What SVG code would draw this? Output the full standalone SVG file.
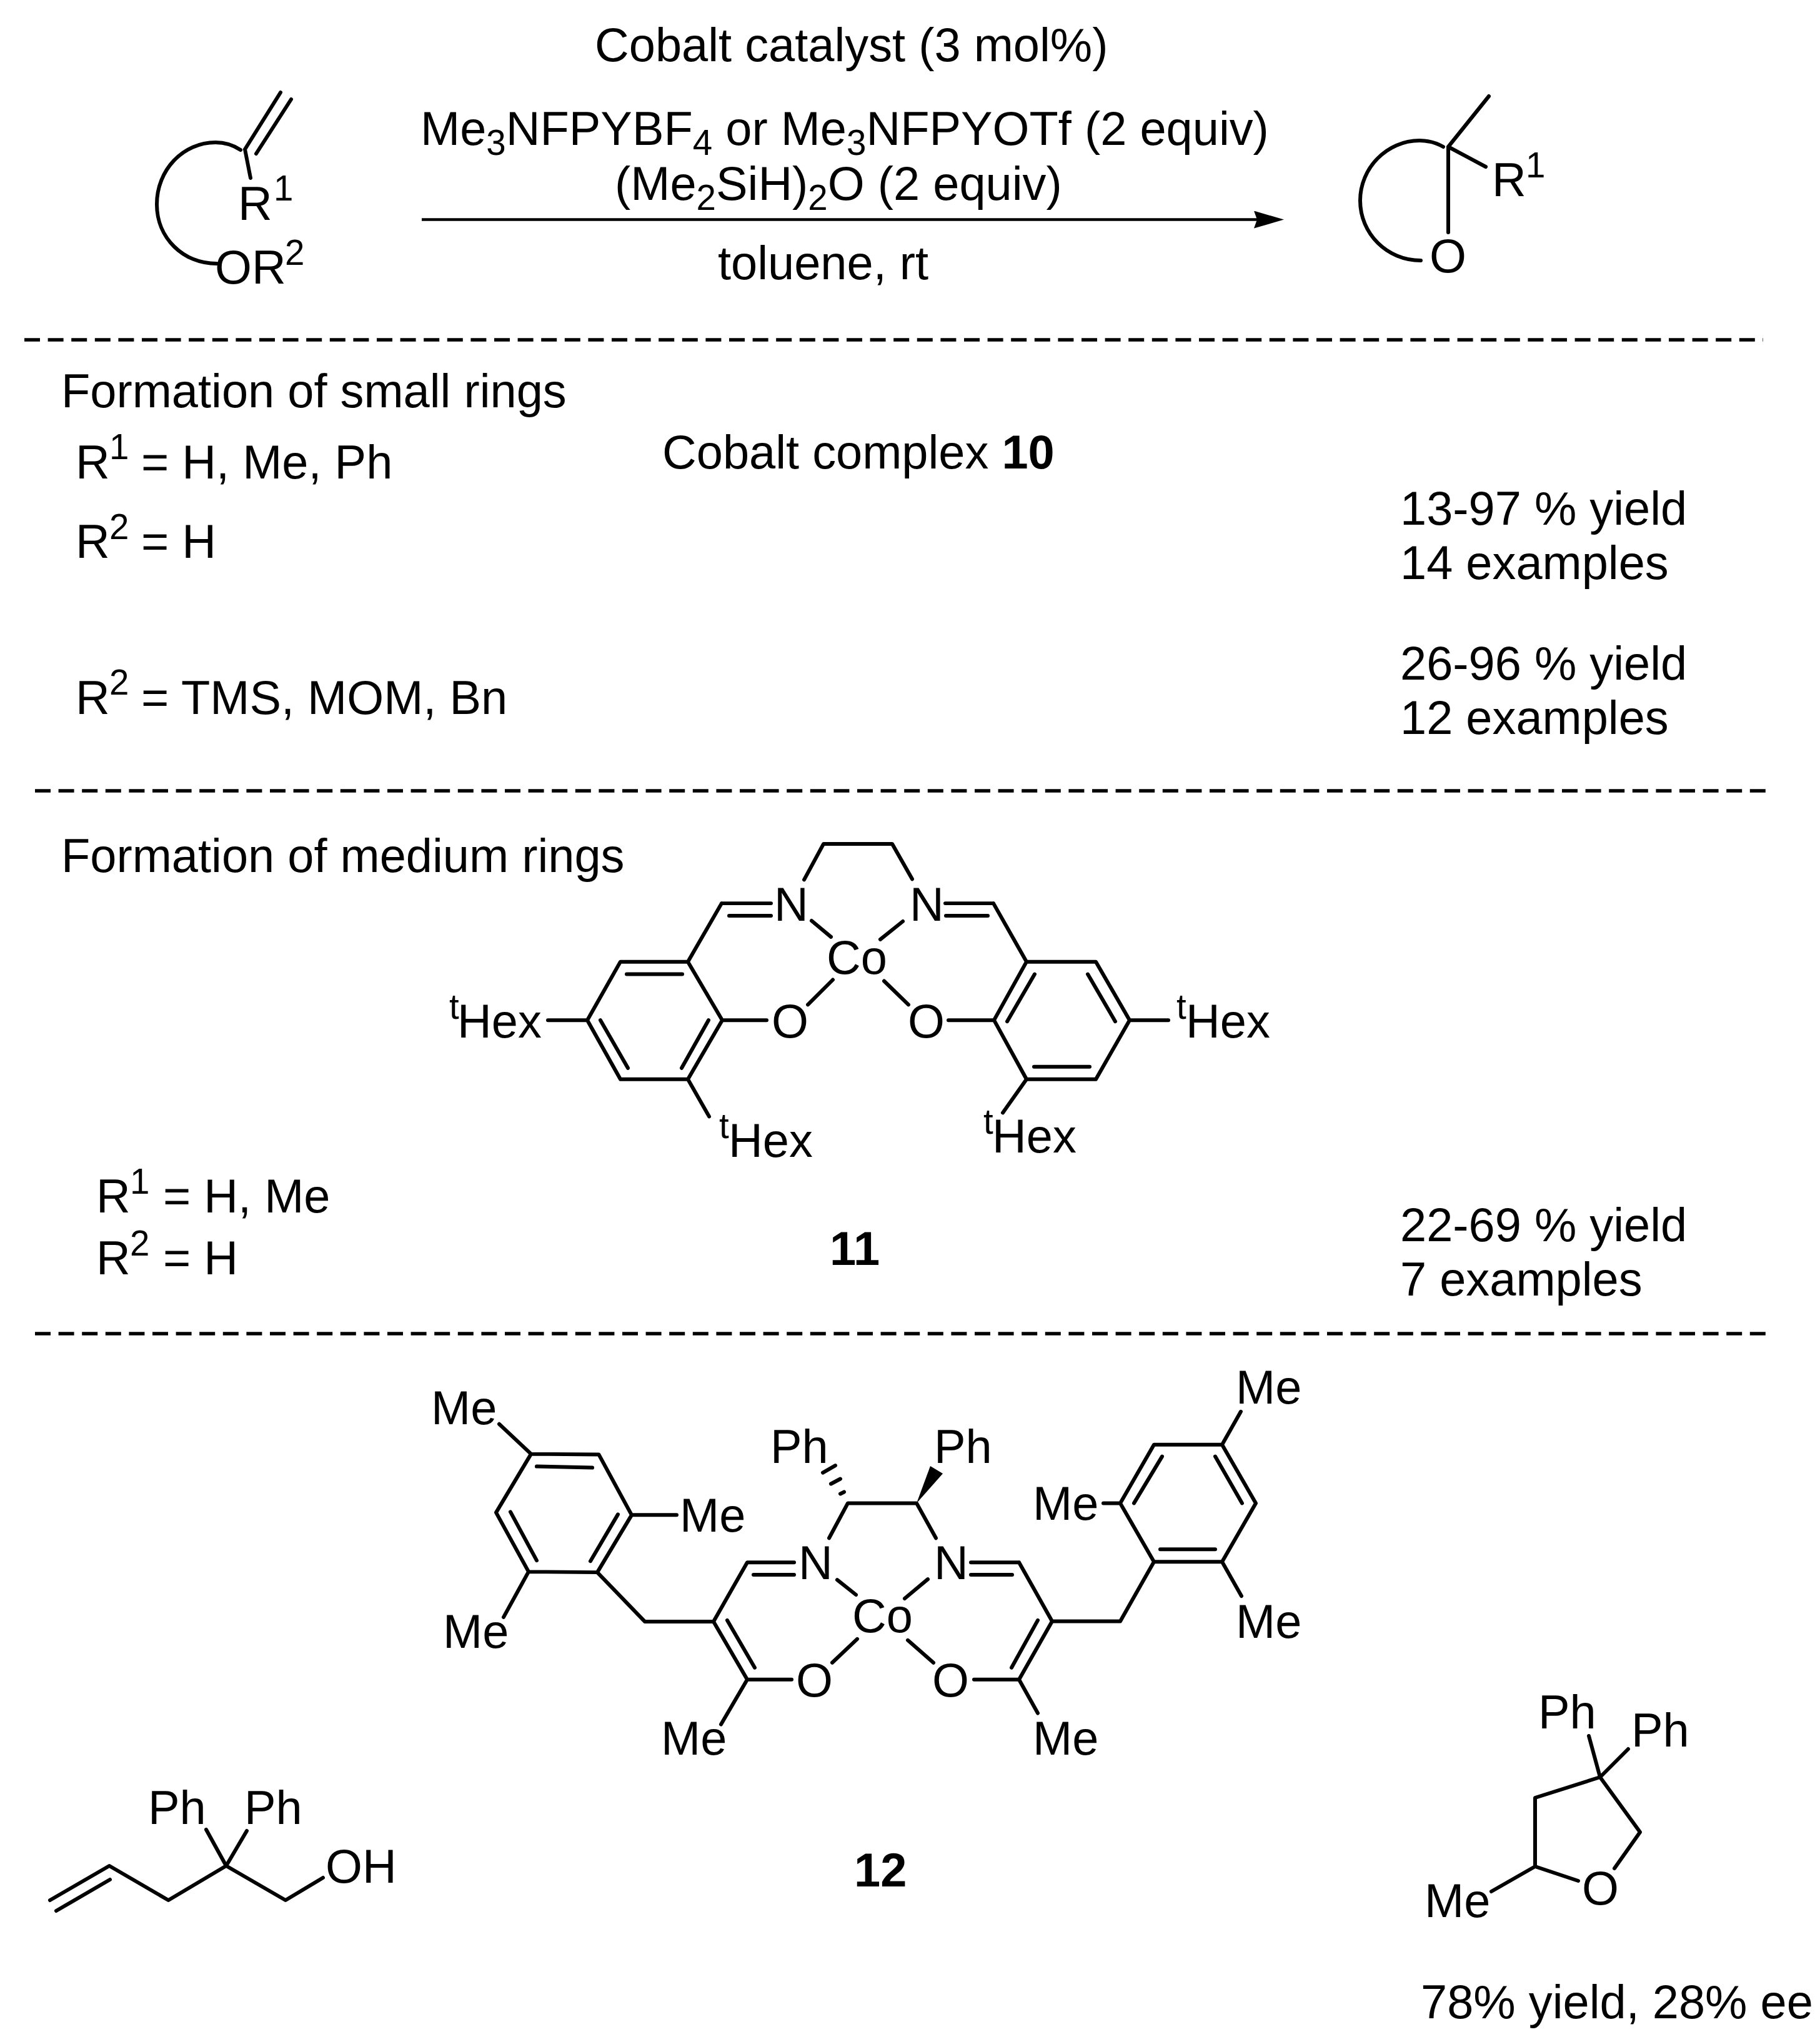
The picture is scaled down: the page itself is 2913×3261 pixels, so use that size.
<svg xmlns="http://www.w3.org/2000/svg" width="2913" height="3261" viewBox="0 0 2913 3261">
<defs>
<style>
text{font-family:"Liberation Sans",Arial,sans-serif;font-size:75.8px;fill:#000}
.s{font-size:56.5px}
.b{font-weight:bold}
.bond{fill:none;stroke:#000;stroke-width:6;stroke-linecap:round;stroke-linejoin:round}
.dash{fill:none;stroke:#000;stroke-width:5.5;stroke-dasharray:25 12.6;stroke-linecap:butt}
.arrow{fill:none;stroke:#000;stroke-width:4.5}
</style>
<marker id="head" markerUnits="userSpaceOnUse" viewBox="0 0 48 28" refX="5" refY="14" markerWidth="48" markerHeight="28" orient="auto"><path d="M0,0L48,14L0,28L5,14Z" fill="#000"/></marker>
</defs>
<rect width="2913" height="3261" fill="#fff"/>
<g id="connectors">
<line class="arrow" x1="675" y1="351.5" x2="2012" y2="351.5" marker-end="url(#head)"/>
<line class="dash" x1="39" y1="544" x2="2822" y2="544"/>
<line class="dash" x1="56" y1="1266" x2="2826" y2="1266"/>
<line class="dash" x1="56" y1="2135" x2="2831" y2="2135"/>
</g>
<g id="reagents">
<text x="952" y="98">Cobalt catalyst (3 mol%)</text>
<text x="673" y="232">Me<tspan class="s" dy="16">3</tspan><tspan dy="-16">NFPYBF</tspan><tspan class="s" dy="16">4</tspan><tspan dy="-16"> or Me</tspan><tspan class="s" dy="16">3</tspan><tspan dy="-16">NFPYOTf (2 equiv)</tspan></text>
<text x="984" y="320">(Me<tspan class="s" dy="16">2</tspan><tspan dy="-16">SiH)</tspan><tspan class="s" dy="16">2</tspan><tspan dy="-16">O (2 equiv)</tspan></text>
<text x="1149" y="446.5">toluene, rt</text>
</g>
<g id="substrate">
<path class="bond" d="M392,239L449,148M410,246L466,159M392,239L401,285"/>
<path class="bond" d="M385,240C373,232 358,228 345,228C293,228 251,272 251,327C251,381 293,422 347,422"/>
<text x="381" y="352">R</text><text class="s" x="438" y="321">1</text>
<text x="344" y="453.5">OR</text><text class="s" x="456" y="424">2</text>
</g>
<g id="product">
<path class="bond" d="M2318,235L2383,154M2318,235L2378,267M2318,235L2318,372"/>
<path class="bond" d="M2310,235C2298,228 2285,225 2272,225C2220,225 2177,269 2177,321C2177,374 2220,417 2274,417"/>
<text x="2388" y="313.5">R</text><text class="s" x="2442" y="284">1</text>
<text x="2288" y="435.5">O</text>
</g>
<g id="small-rings">
<text x="98" y="652">Formation of small rings</text>
<text x="121" y="765.5">R</text><text class="s" x="175" y="735">1</text><text x="226" y="765.5">= H, Me, Ph</text>
<text x="121" y="893">R</text><text class="s" x="175" y="863">2</text><text x="226" y="893">= H</text>
<text x="121" y="1142.5">R</text><text class="s" x="175" y="1112">2</text><text x="226" y="1142.5">= TMS, MOM, Bn</text>
<text x="1060" y="750">Cobalt complex <tspan class="b">10</tspan></text>
<text x="2241" y="840">13-97 % yield</text>
<text x="2241" y="926.5">14 examples</text>
<text x="2241" y="1088">26-96 % yield</text>
<text x="2241" y="1175">12 examples</text>
</g>
<g id="medium-rings">
<text x="98" y="1396">Formation of medium rings</text>
<text x="154" y="1941">R</text><text class="s" x="208" y="1911">1</text><text x="261" y="1941">= H, Me</text>
<text x="154" y="2040">R</text><text class="s" x="208" y="2010">2</text><text x="261" y="2040">= H</text>
<text class="b" x="1328" y="2025">11</text>
<text x="2241" y="1987">22-69 % yield</text>
<text x="2241" y="2074">7 examples</text>
</g>
<g id="complex-11">
<path class="bond" transform="translate(0,6.35) scale(1,0.995)" d="M1287,1409L1318,1351.5L1428,1351.5L1460,1408M1155,1447L1234,1447M1167,1467L1234,1467M1155,1447L1101,1541L993,1541L940,1635L993,1730L1101,1730L1156,1635L1101,1541M1003,1561L1092,1561M961,1635L1005,1712M1134,1635L1091,1712M877,1635L940,1635M1156,1635L1227,1635M1299,1475L1330,1501M1333,1570L1293,1610M1513,1447L1590,1447M1514,1467L1581,1467M1590,1447L1643,1541L1754,1541L1808,1635L1754,1730L1643,1730L1591,1635L1643,1541M1656,1561L1612,1637M1741,1561L1785,1637M1655,1710L1744,1710M1808,1635L1870,1635M1518,1635L1591,1635M1445,1476L1409,1505M1415,1572L1454,1610M1101,1730L1135,1790M1643,1730L1605,1784"/>
<text x="1239" y="1474">N</text><text x="1456" y="1474">N</text>
<text x="1323" y="1558.5">Co</text>
<text x="1235" y="1661">O</text><text x="1453" y="1661">O</text>
<text class="s" x="719" y="1631">t</text><text x="732" y="1661">Hex</text>
<text class="s" x="1151" y="1822">t</text><text x="1166" y="1852">Hex</text>
<text class="s" x="1574" y="1815">t</text><text x="1588" y="1845">Hex</text>
<text class="s" x="1883" y="1631">t</text><text x="1898" y="1661">Hex</text>
</g>
<g id="complex-12">
<path class="bond" transform="translate(0,5.67) scale(1,0.9974)" d="M850,2328L958.5,2329L1011,2426L956,2518L846,2517L794,2422L850,2328M859,2348L948,2350M817,2421L859,2499M989,2425L945,2500M850,2328L799,2280M1011,2426L1083,2426M846,2517L806,2590M956,2518L1032,2597L1142,2597L1196,2690M1164,2595L1208,2671M1142,2597L1196,2502L1271,2502M1206,2522L1271,2522M1327,2463L1357,2407L1467,2407L1498,2463M1340,2530L1370,2554M1372,2625L1332,2663M1196,2690L1267,2690M1196,2690L1154,2762M1317,2358L1337,2346.5M1330,2376L1345,2368M1345,2392L1351,2389M1554,2502L1631,2502M1554,2522L1620,2522M1631,2502L1684,2596.5L1631,2690M1661,2595L1619,2671M1684,2596.5L1793,2596.5L1847,2501L1956,2501L2010,2407L1956,2313L1847,2313L1793,2407L1847,2501M1857,2481L1945,2481M1988,2407L1945,2332M1860,2332L1815,2407M1793,2407L1766,2407M1956,2313L1986,2260M1956,2501L1987,2556M1631,2690L1661,2744M1559,2690L1631,2690M1485,2529L1448,2560M1453,2627L1494,2663"/>
<path d="M1467,2406.5L1489,2347L1509,2359Z" fill="#000"/>
<text x="690" y="2279.5">Me</text><text x="1088" y="2452">Me</text><text x="709" y="2638">Me</text><text x="1058" y="2808.5">Me</text>
<text x="1653" y="2433">Me</text><text x="1978" y="2247">Me</text><text x="1978" y="2622">Me</text><text x="1653" y="2808.5">Me</text>
<text x="1233" y="2341.5">Ph</text><text x="1495" y="2341.5">Ph</text>
<text x="1278" y="2528">N</text><text x="1495" y="2528">N</text>
<text x="1364" y="2613">Co</text>
<text x="1274" y="2716">O</text><text x="1492" y="2716">O</text>
<text class="b" x="1367" y="3020">12</text>
</g>
<g id="alkenol">
<path class="bond" d="M80,3042L175,2987L269.5,3042L362,2987L457,3042L517,3006M90,3059L176,3009M362,2987L330,2929M362,2987L395,2931"/>
<text x="237" y="2920">Ph</text><text x="391" y="2920">Ph</text>
<text x="521" y="3014">OH</text>
</g>
<g id="thf-product">
<path class="bond" d="M2561,2845L2457,2878L2457,2988L2526,3011M2584,2991L2625,2933L2561,2845M2561,2845L2543,2779M2561,2845L2606,2800M2457,2988L2387,3028"/>
<text x="2462" y="2767">Ph</text><text x="2611" y="2796">Ph</text>
<text x="2280" y="3069">Me</text><text x="2532" y="3049">O</text>
<text x="2274" y="3231">78% yield, 28% ee</text>
</g>
</svg>
